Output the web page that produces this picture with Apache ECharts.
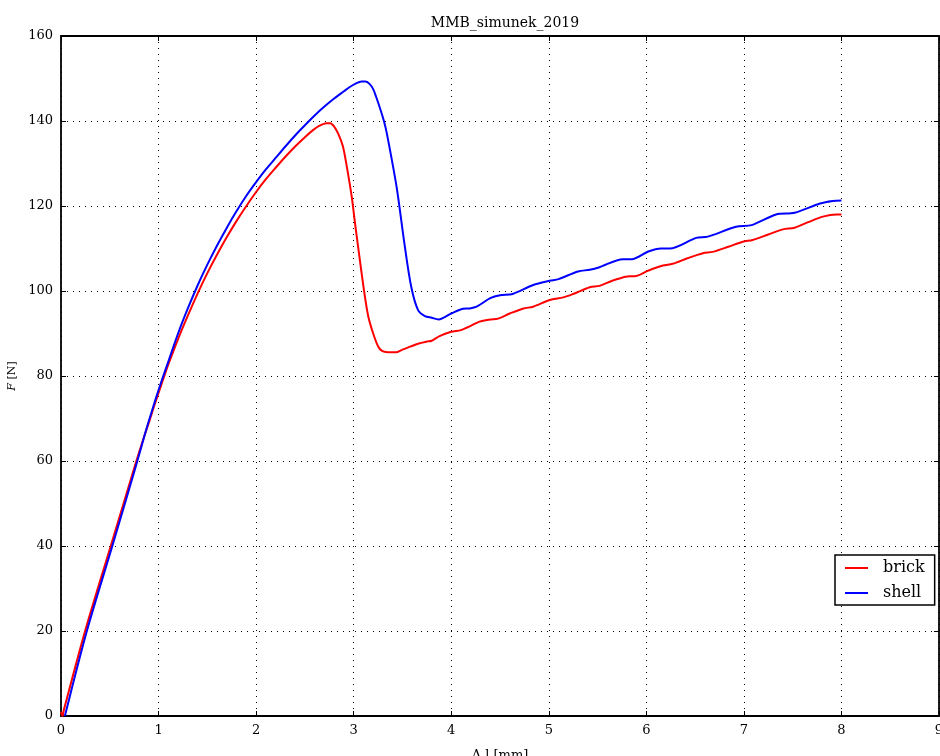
<!DOCTYPE html>
<html>
<head>
<meta charset="utf-8">
<script src="https://cdn.jsdelivr.net/npm/echarts@6/dist/echarts.min.js"></script>
<style>html,body{margin:0;padding:0;background:#fff;}#c{width:940px;height:756px;}</style>
</head>
<body>
<div id="c"></div>
<script>
const titleText = 'MMB_simunek_2019';
const seriesNames = ['brick', 'shell'];
const xTicks = [0, 1, 2, 3, 4, 5, 6, 7, 8, 9];
const yTicks = [0, 20, 40, 60, 80, 100, 120, 140, 160];

const brick = [
  [0,1],[0.015,0],[0.03,1.5],[0.25,20.2],[0.51,40],[0.77,59.8],[0.85,65.6],[0.9,69.0],
  [0.95,72.6],[1.0,76.0],[1.05,79.4],[1.1,82.7],[1.2,88.7],[1.3,94.2],[1.4,99.4],[1.5,104.2],[1.6,108.6],
  [1.7,112.7],[1.8,116.5],[1.9,120.0],[2.0,123.3],[2.1,126.3],[2.2,129.0],[2.3,131.6],
  [2.4,134.0],[2.5,136.2],[2.58,137.8],[2.65,138.9],[2.72,139.5],[2.76,139.5],[2.80,138.7],
  [2.84,137.1],[2.89,134],[2.93,129.2],[2.98,122.2],[3.01,116.7],[3.05,109.6],
  [3.11,99.5],[3.15,94],[3.20,90.0],[3.25,87],[3.29,85.9],[3.35,85.6],[3.44,85.6],
  [3.50,86.2],[3.58,86.9],[3.66,87.6],[3.75,88.1],[3.80,88.3],[3.88,89.4],[4.00,90.4],
  [4.10,90.8],[4.20,91.8],[4.29,92.8],[4.40,93.3],[4.48,93.5],[4.60,94.7],[4.74,95.9],
  [4.84,96.3],[5.01,97.9],[5.15,98.5],[5.25,99.3],[5.42,100.9],[5.52,101.2],[5.65,102.4],
  [5.83,103.5],[5.88,103.5],[6.02,104.8],[6.17,106.0],[6.27,106.4],[6.42,107.7],
  [6.58,108.9],[6.68,109.2],[6.84,110.4],[6.99,111.6],[7.09,112.0],[7.25,113.3],
  [7.40,114.5],[7.52,114.9],[7.66,116.2],[7.81,117.5],[7.95,118.0],[8.0,118.0]
];

const shell = [
  [0.04,0],[0.265,20],[0.526,40],[0.78,59.8],[0.85,65.5],[0.9,69.4],[0.95,73.1],[1.0,76.7],
  [1.05,80.1],[1.1,83.4],[1.2,90.0],[1.3,95.9],[1.4,101.3],[1.5,106.2],[1.6,110.7],[1.7,114.9],[1.8,118.8],
  [1.9,122.4],[2.0,125.6],[2.1,128.6],[2.2,131.3],[2.3,134.0],[2.4,136.6],[2.5,139.0],
  [2.6,141.3],[2.7,143.4],[2.8,145.3],[2.9,147.0],[2.96,148.0],[3.02,148.8],[3.08,149.3],
  [3.12,149.3],[3.16,148.8],[3.20,147.5],[3.23,145.7],[3.27,143.0],[3.31,140.0],
  [3.34,137.1],[3.44,124.5],[3.52,111.2],[3.59,101.0],[3.66,95.5],[3.73,94.1],[3.80,93.7],
  [3.87,93.3],[4.00,94.7],[4.12,95.8],[4.19,95.9],[4.26,96.3],[4.40,98.3],[4.50,99.0],
  [4.63,99.3],[4.84,101.4],[5.01,102.4],[5.10,102.8],[5.30,104.6],[5.42,105.0],[5.52,105.6],
  [5.76,107.5],[5.85,107.5],[6.02,109.3],[6.15,110.0],[6.24,110.0],[6.51,112.5],[6.63,112.8],
  [6.92,115.1],[7.08,115.5],[7.33,118.0],[7.52,118.4],[7.78,120.6],[7.91,121.2],[8.0,121.3]
];

const FONT = 'DejaVu Serif';
const chart = echarts.init(document.getElementById('c'), null, {renderer: 'canvas'});
const gridDots = {show: true, lineStyle: {color: '#000', width: 1, type: [1, 5]}};
const axisLineStyle = {show: true, onZero: false, lineStyle: {color: '#000', width: 1.8}};
chart.setOption({
  animation: false,
  backgroundColor: '#fff',
  title: {
    text: titleText, left: 500, top: 11, textAlign: 'center',
    textStyle: {fontFamily: FONT, fontSize: 14, fontWeight: 'normal', color: '#000'}
  },
  legend: {
    orient: 'vertical', left: 835, top: 555,
    data: seriesNames.map(n => ({name: n, icon: 'rect'})),
    backgroundColor: '#fff', borderColor: '#000', borderWidth: 1.5, borderRadius: 0,
    padding: [5, 10, 4, 10], itemWidth: 23, itemHeight: 2, itemGap: 9,
    textStyle: {fontFamily: FONT, fontSize: 16, color: '#000', padding: [0, 0, 0, 10]}
  },
  grid: {left: 61, right: 1, top: 36, bottom: 40, containLabel: false, outerBoundsMode: 'none'},
  xAxis: [{
    type: 'value', min: 0, max: 9, interval: 1,
    name: 'Δ l [mm]', nameLocation: 'middle', nameGap: 33,
    nameTextStyle: {fontFamily: FONT, fontSize: 13, color: '#000'},
    axisLine: axisLineStyle,
    axisTick: {show: true, inside: true, length: 5, lineStyle: {color: '#000'}},
    axisLabel: {fontFamily: FONT, fontSize: 13, color: '#000', margin: 8,
      formatter: v => xTicks.includes(v) ? String(v) : ''},
    splitLine: gridDots
  }, {
    type: 'value', min: 0, max: 9, interval: 1, position: 'top',
    axisLine: axisLineStyle,
    axisTick: {show: true, inside: true, length: 5, lineStyle: {color: '#000'}},
    axisLabel: {show: false}, splitLine: {show: false}
  }],
  yAxis: [{
    type: 'value', min: 0, max: 160, interval: 20,
    name: '{i|F} [N]', nameLocation: 'middle', nameGap: 40,
    nameTextStyle: {fontFamily: FONT, fontSize: 11, color: '#000',
      rich: {i: {fontFamily: FONT, fontStyle: 'italic', fontSize: 11, color: '#000'}}},
    axisLine: axisLineStyle,
    axisTick: {show: true, inside: true, length: 5, lineStyle: {color: '#000'}},
    axisLabel: {fontFamily: FONT, fontSize: 13, color: '#000', margin: 8,
      formatter: v => yTicks.includes(v) ? String(v) : ''},
    splitLine: gridDots
  }, {
    type: 'value', min: 0, max: 160, interval: 20, position: 'right',
    axisLine: axisLineStyle,
    axisTick: {show: true, inside: true, length: 5, lineStyle: {color: '#000'}},
    axisLabel: {show: false}, splitLine: {show: false}
  }],
  series: [
    {name: seriesNames[0], type: 'line', data: brick, showSymbol: false, symbol: 'none',
     smooth: 0.3, lineStyle: {color: '#ff0000', width: 2}, itemStyle: {color: '#ff0000'}},
    {name: seriesNames[1], type: 'line', data: shell, showSymbol: false, symbol: 'none',
     smooth: 0.3, lineStyle: {color: '#0000ff', width: 2}, itemStyle: {color: '#0000ff'}}
  ]
});
</script>
</body>
</html>
